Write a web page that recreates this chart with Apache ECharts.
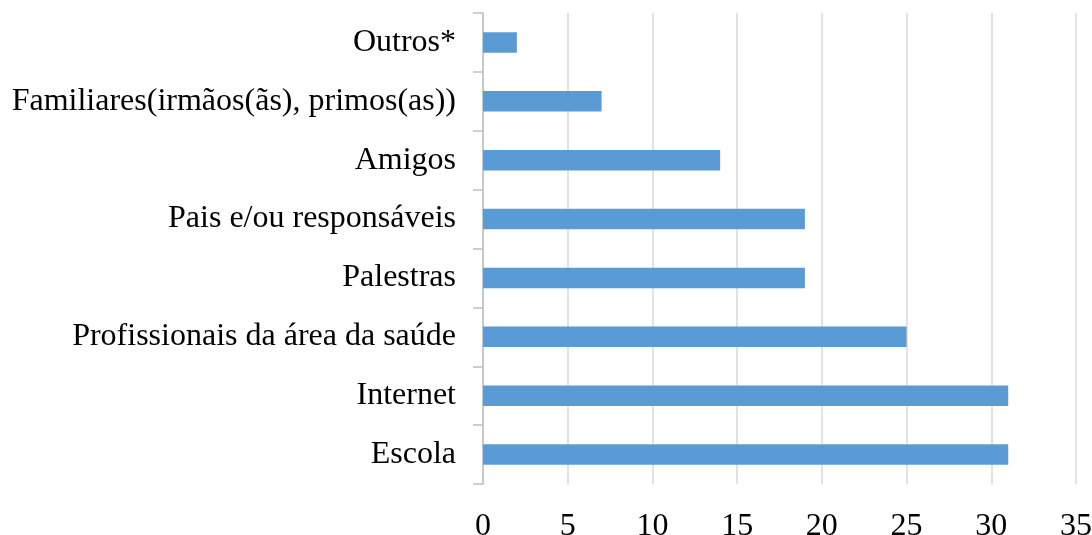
<!DOCTYPE html>
<html>
<head>
<meta charset="utf-8">
<script src="https://cdn.jsdelivr.net/npm/echarts@6/dist/echarts.min.js"></script>
<style>
  html, body { margin: 0; padding: 0; background: #fff; }
  #chart { width: 1092px; height: 535px; }
</style>
</head>
<body>
<div id="chart"></div>
<script>
// categories listed top to bottom, as in the picture
const categories = [
  'Outros*',
  'Familiares(irmãos(ãs), primos(as))',
  'Amigos',
  'Pais e/ou responsáveis',
  'Palestras',
  'Profissionais da área da saúde',
  'Internet',
  'Escola'
]
const values = [2, 7, 14, 19, 19, 25, 31, 31]
const xMin = 0
const xMax = 35
const xStep = 5

const font = '"Liberation Serif", "Times New Roman", serif'

const myChart = echarts.init(document.getElementById('chart'))
myChart.setOption({
  animation: false,
  grid: { left: 483, right: 16, top: 13, bottom: 51, containLabel: false, outerBoundsMode: 'none' },
  xAxis: {
    type: 'value',
    min: xMin,
    max: xMax,
    interval: xStep,
    axisLine: { show: false },
    axisTick: { show: false },
    splitLine: { show: true, lineStyle: { color: '#d9d9d9', width: 1.5 } },
    axisLabel: { color: '#000', fontFamily: font, fontSize: 32, margin: 27 }
  },
  yAxis: {
    type: 'category',
    data: categories,
    inverse: true,
    axisLine: { show: true, lineStyle: { color: '#bfbfbf', width: 1.5 } },
    axisTick: { show: true, length: 10, lineStyle: { color: '#bfbfbf', width: 1.5 } },
    axisLabel: { color: '#000', fontFamily: font, fontSize: 32, margin: 27 }
  },
  series: [{
    type: 'bar',
    data: values,
    barWidth: '35%',
    itemStyle: { color: '#5b9bd5' }
  }]
})
</script>
</body>
</html>
